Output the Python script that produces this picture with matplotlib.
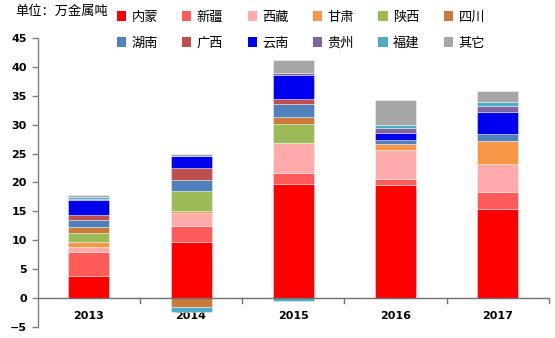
import numpy as np
import matplotlib
matplotlib.use('Agg')
from matplotlib import pyplot as plt
from matplotlib.patches import Patch

plt.rcParams['font.family'] = ['Noto Sans CJK SC', 'DejaVu Sans']

years = ['2013', '2014', '2015', '2016', '2017']
regions = ['内蒙', '新疆', '西藏', '甘肃', '陕西', '四川',
           '湖南', '广西', '云南', '贵州', '福建', '其它']
colors = ['#FF0000', '#FF5B5B', '#FFABAB', '#F79646', '#9BBB59', '#CC7A3A',
          '#4F81BD', '#C0504D', '#0000F0', '#8064A2', '#4BACC6', '#A6A6A6']

# 单位：万金属吨
nm = [3.8, 9.6, 19.7, 19.6, 15.45]
xj = [4.1, 2.9, 1.85, 1.0, 2.95]
xz = [0.9, 2.1, 5.25, 5.0, 4.8]
gs = [0.9, 0.4, 0.0, 1.05, 4.0]
sx = [1.5, 3.45, 3.35, 0.0, 0.0]
sc = [1.1, -1.7, 1.25, 0.0, 0.0]
hn = [1.2, 2.0, 2.15, 0.75, 1.1]
gx = [0.9, 2.0, 0.95, 0.0, 0.0]
yn = [2.55, 2.2, 4.1, 1.1, 3.9]
gz = [0.1, 0.0, 0.4, 0.95, 1.05]
fj = [0.45, -0.8, -0.5, 0.55, 0.65]
qt = [0.3, 0.3, 2.2, 4.35, 1.9]
series = [nm, xj, xz, gs, sx, sc, hn, gx, yn, gz, fj, qt]

fig = plt.figure(figsize=(5.55, 3.38), dpi=100)
ax = fig.add_axes([0.068, 0.034, 0.921, 0.853])

x = np.arange(len(years))
pos_base = np.zeros(len(years))
neg_base = np.zeros(len(years))
for vals, col in zip(series, colors):
    v = np.array(vals)
    bottom = np.where(v >= 0, pos_base, neg_base)
    ax.bar(x, v, bottom=bottom, width=0.4, color=col,
           edgecolor=(1, 1, 1, 0.45), linewidth=0.6, zorder=2)
    pos_base += np.where(v > 0, v, 0)
    neg_base += np.where(v < 0, v, 0)

ax.set_xlim(-0.5, 4.5)
ax.set_ylim(-5, 45)
ax.set_yticks(np.arange(-5, 46, 5))
for s in ['top', 'right', 'bottom']:
    ax.spines[s].set_visible(False)
ax.spines['left'].set_color('#808080')
ax.spines['left'].set_linewidth(1.0)
ax.axhline(0, color='#707070', lw=1.0, zorder=3)

# category separators hang below the zero line
for b in np.arange(0.5, 5.0, 1.0):
    ax.plot([b, b], [0, -0.9], color='#707070', lw=1.0, zorder=3, clip_on=False)
ax.set_xticks([])
for xi, yr in zip(x, years):
    ax.text(xi, -3.1, yr, ha='center', va='center', fontsize=8,
            fontweight='bold', family='DejaVu Sans', zorder=1)

ax.tick_params(axis='y', direction='out', length=4, width=1.0,
               color='#808080', pad=4)
for lbl in ax.get_yticklabels():
    lbl.set_fontsize(8)
    lbl.set_fontweight('bold')
    lbl.set_family('DejaVu Sans')

fig.text(0.028, 0.965, '单位：万金属吨', fontsize=9.5, va='center', ha='left')

# legend fills column by column, so interleave the two rows
ncol = 6
order = [r * ncol + c for c in range(ncol) for r in range(2)]
handles = [Patch(facecolor=colors[i], edgecolor='none') for i in order]
labels = [regions[i] for i in order]
fig.legend(handles, labels, ncol=ncol, loc='upper left',
           bbox_to_anchor=(0.189, 1.004), frameon=False, fontsize=9.5,
           handlelength=0.7, handleheight=0.7, handletextpad=0.4,
           columnspacing=1.85, labelspacing=1.0)

fig.savefig('out.png', dpi=100)
